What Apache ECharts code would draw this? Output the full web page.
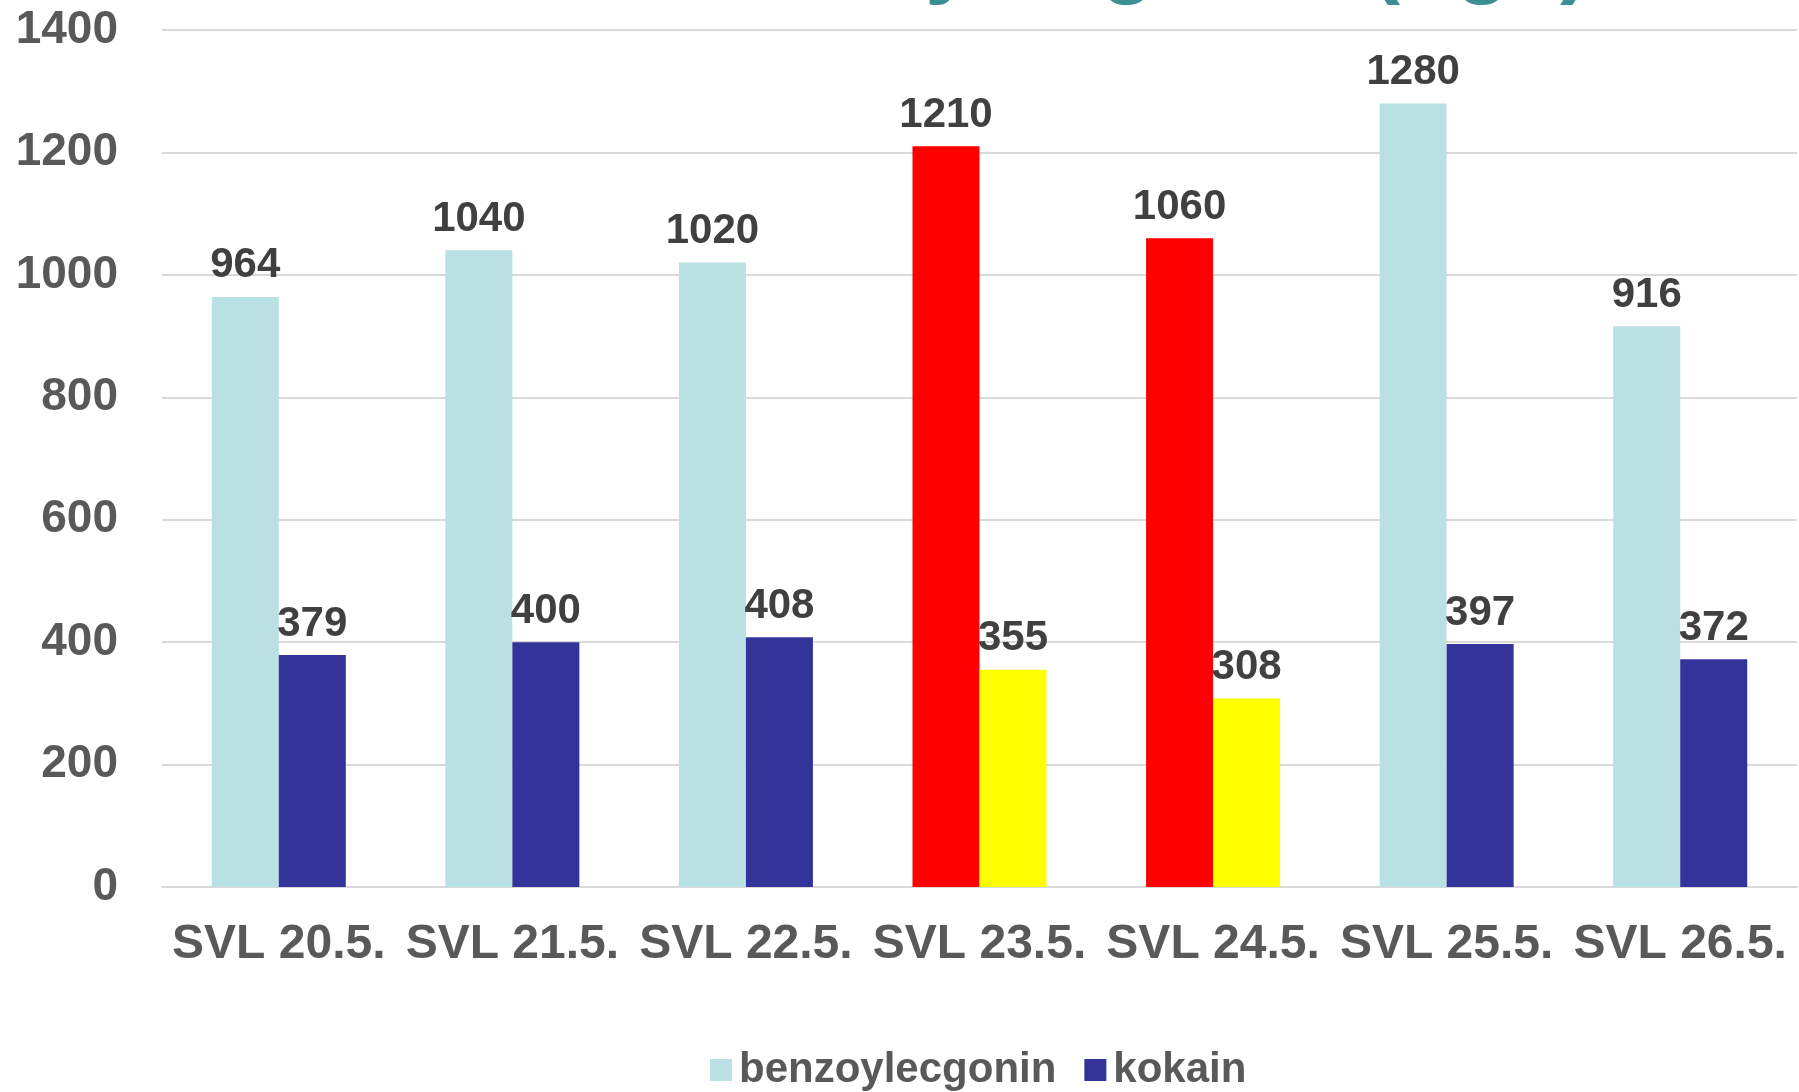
<!DOCTYPE html>
<html>
<head>
<meta charset="utf-8">
<style>
html,body{margin:0;padding:0;background:#fff;}
#chart{width:1799px;height:1092px;}
</style>
<script src="https://cdn.jsdelivr.net/npm/echarts@6/dist/echarts.min.js"></script>
</head>
<body>
<div id="chart"></div>
<script>
const titleText = 'Kokain a benzoylecgonin (ng/l)';
const categories = ['SVL 20.5.', 'SVL 21.5.', 'SVL 22.5.', 'SVL 23.5.', 'SVL 24.5.', 'SVL 25.5.', 'SVL 26.5.'];
const benzoylecgonin = [964, 1040, 1020, 1210, 1060, 1280, 916];
const kokain = [379, 400, 408, 355, 308, 397, 372];
const highlighted = [3, 4];
const yTicks = { min: 0, max: 1400, interval: 200 };

const font = '"Liberation Sans", Arial, sans-serif';
const chart = echarts.init(document.getElementById('chart'), null, { renderer: 'canvas' });

const labelCfg = {
  show: true,
  position: 'top',
  distance: 10,
  fontFamily: font,
  fontWeight: 'bold',
  fontSize: 42,
  color: '#404040'
};

function withHighlight(values, hiColor) {
  return values.map((v, i) => highlighted.includes(i) ? { value: v, itemStyle: { color: hiColor } } : v);
}

chart.setOption({
  animation: false,
  backgroundColor: '#ffffff',
  title: {
    text: titleText,
    left: 265,
    top: -84,
    padding: 0,
    textStyle: { fontFamily: font, fontWeight: 'bold', fontSize: 90, lineHeight: 90, color: '#3a8f95' }
  },
  grid: { left: 162, right: 2, top: 30, bottom: 205, containLabel: false, outerBoundsMode: 'none' },
  legend: {
    left: 705,
    top: 1044,
    itemWidth: 22,
    itemHeight: 22,
    itemGap: 28,
    icon: 'rect',
    textStyle: { fontFamily: font, fontWeight: 'bold', fontSize: 42, color: '#595959', padding: [0, 0, 0, 2] },
    data: ['benzoylecgonin', 'kokain']
  },
  xAxis: {
    type: 'category',
    data: categories,
    axisLine: { lineStyle: { color: '#d9d9d9', width: 2 } },
    axisTick: { show: false },
    axisLabel: { margin: 34, fontFamily: font, fontWeight: 'bold', fontSize: 48, color: '#595959', interval: 0 }
  },
  yAxis: {
    type: 'value',
    min: yTicks.min,
    max: yTicks.max,
    interval: yTicks.interval,
    axisLine: { show: false },
    axisTick: { show: false },
    splitLine: { lineStyle: { color: '#d9d9d9', width: 2 } },
    axisLabel: { margin: 44, fontFamily: font, fontWeight: 'bold', fontSize: 46, color: '#595959', formatter: v => String(v) }
  },
  series: [
    {
      name: 'benzoylecgonin',
      type: 'bar',
      data: withHighlight(benzoylecgonin, '#ff0000'),
      barWidth: 67,
      barGap: '0%',
      itemStyle: { color: '#b9e0e3' },
      label: labelCfg
    },
    {
      name: 'kokain',
      type: 'bar',
      data: withHighlight(kokain, '#ffff00'),
      barWidth: 67,
      barGap: '0%',
      itemStyle: { color: '#333399' },
      label: labelCfg
    }
  ]
});
</script>
</body>
</html>
